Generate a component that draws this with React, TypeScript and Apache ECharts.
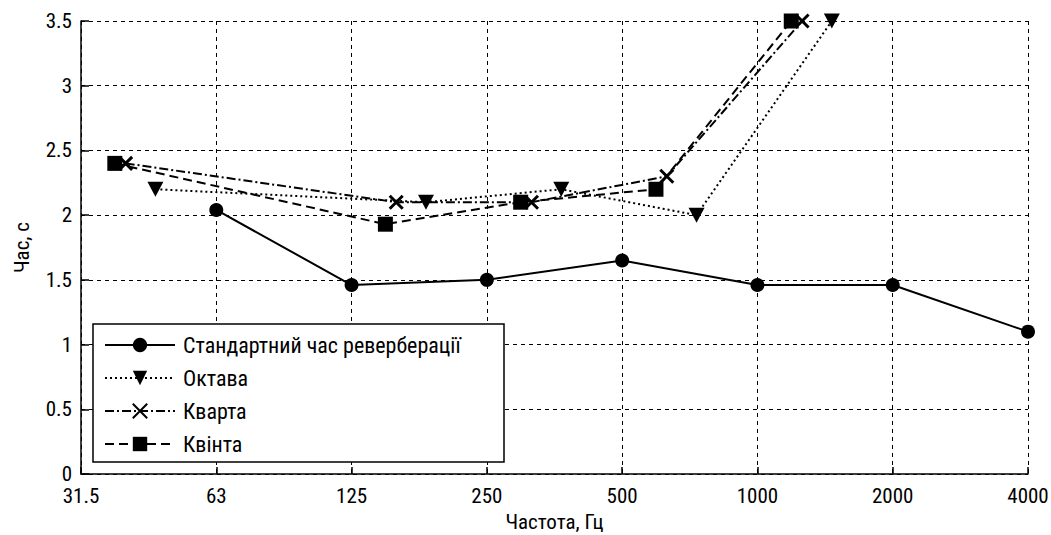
import React, { useEffect, useRef } from "react";
import * as echarts from "echarts";

const xTickLabels = ["31.5", "63", "125", "250", "500", "1000", "2000", "4000"];
const yTickLabels = ["0", "0.5", "1", "1.5", "2", "2.5", "3", "3.5"];

const seriesNames = ["Стандартний час реверберації", "Октава", "Кварта", "Квінта"];

// x positions are octave-band indices (0 = 31.5 Hz, 1 = 63 Hz, ...)
const standardX = [1, 2, 3, 4, 5, 6, 7];
const standardY = [2.04, 1.46, 1.5, 1.65, 1.46, 1.46, 1.1];

const octaveX = [0.55, 2.55, 3.55, 4.55, 5.55];
const octaveY = [2.2, 2.1, 2.2, 2.0, 3.5];

const quartX = [0.33, 2.33, 3.33, 4.33, 5.33];
const quartY = [2.4, 2.1, 2.1, 2.3, 3.5];

const quintX = [0.25, 2.25, 3.25, 4.25, 5.25];
const quintY = [2.4, 1.93, 2.1, 2.2, 3.5];

const FONT = "'Roboto Condensed', 'Liberation Sans', Arial, sans-serif";

function pairs(xs: number[], ys: number[]) {
  return xs.map((x, i) => [x, ys[i]]);
}

export default function App() {
  const ref = useRef<HTMLDivElement>(null);
  useEffect(() => {
    if (!ref.current) return;
    const chart = echarts.init(ref.current, null, { renderer: "svg" });
    const gridLine = { show: true, lineStyle: { color: "#000", width: 1, type: [4, 4] as any } };
    const common = { clip: false, z: 3 };
    chart.setOption({
      animation: false,
      backgroundColor: "#fff",
      textStyle: { fontFamily: FONT, color: "#000" },
      grid: {
        left: 81,
        top: 21,
        right: 23,
        bottom: 61,
        containLabel: false,
        outerBoundsMode: "none",
      },
      xAxis: {
        type: "value",
        min: 0,
        max: 7,
        interval: 1,
        name: "Частота, Гц",
        nameLocation: "middle",
        nameGap: 37,
        nameTextStyle: { fontFamily: FONT, fontSize: 21, color: "#000" },
        axisLine: { show: true, onZero: false, lineStyle: { color: "#000", width: 1.5 } },
        axisTick: { show: true, inside: true, length: 7, lineStyle: { color: "#000", width: 1.5 } },
        axisLabel: {
          fontFamily: FONT,
          fontSize: 21,
          lineHeight: 17,
          color: "#000",
          margin: 13,
          formatter: (v: number) => xTickLabels[Math.round(v)] ?? "",
        },
        splitLine: gridLine,
      },
      yAxis: {
        type: "value",
        min: 0,
        max: 3.5,
        interval: 0.5,
        name: "Час, с",
        nameLocation: "middle",
        nameGap: 49,
        nameRotate: 90,
        nameTextStyle: { fontFamily: FONT, fontSize: 21, color: "#000" },
        axisLine: { show: true, lineStyle: { color: "#000", width: 1.5 } },
        axisTick: { show: true, inside: true, length: 8, lineStyle: { color: "#000", width: 1.5 } },
        axisLabel: {
          fontFamily: FONT,
          fontSize: 21,
          lineHeight: 17,
          color: "#000",
          margin: 9,
          formatter: (v: number) => yTickLabels[Math.round(v * 2)] ?? "",
        },
        splitLine: gridLine,
      },
      legend: {
        orient: "vertical",
        left: 93,
        top: 324,
        padding: [10, 0, 7, 11],
        itemGap: 11,
        itemWidth: 70,
        itemHeight: 18,
        backgroundColor: "#fff",
        borderColor: "#000",
        borderWidth: 1.5,
        borderRadius: 0,
        textStyle: {
          fontFamily: FONT,
          fontSize: 22,
          lineHeight: 22,
          width: 321,
          overflow: "none",
          color: "#000",
          padding: [0, 0, 0, 3],
        },
        data: seriesNames,
      },
      series: [
        {
          ...common,
          name: seriesNames[0],
          type: "line",
          data: pairs(standardX, standardY),
          symbol: "circle",
          symbolSize: 14,
          lineStyle: { color: "#000", width: 2, type: "solid" },
          itemStyle: { color: "#000" },
        },
        {
          ...common,
          name: seriesNames[1],
          type: "line",
          data: pairs(octaveX, octaveY),
          symbol: "triangle",
          symbolRotate: 180,
          symbolSize: [16, 15],
          lineStyle: { color: "#000", width: 2, type: [2, 3] },
          itemStyle: { color: "#000" },
        },
        {
          ...common,
          name: seriesNames[2],
          type: "line",
          data: pairs(quartX, quartY),
          symbol: "path://M0,0L10,10M10,0L0,10",
          symbolSize: 13,
          lineStyle: { color: "#000", width: 2, type: [9, 3, 2, 3] },
          itemStyle: { color: "#000", borderColor: "#000", borderWidth: 3 },
        },
        {
          ...common,
          name: seriesNames[3],
          type: "line",
          data: pairs(quintX, quintY),
          symbol: "rect",
          symbolSize: 15,
          lineStyle: { color: "#000", width: 2, type: [9, 5] },
          itemStyle: { color: "#000" },
        },
      ],
    });
    return () => chart.dispose();
  }, []);
  return (
    <div
      ref={ref}
      style={{ position: "fixed", left: 0, top: 0, width: 1051, height: 535, background: "#fff" }}
    />
  );
}
